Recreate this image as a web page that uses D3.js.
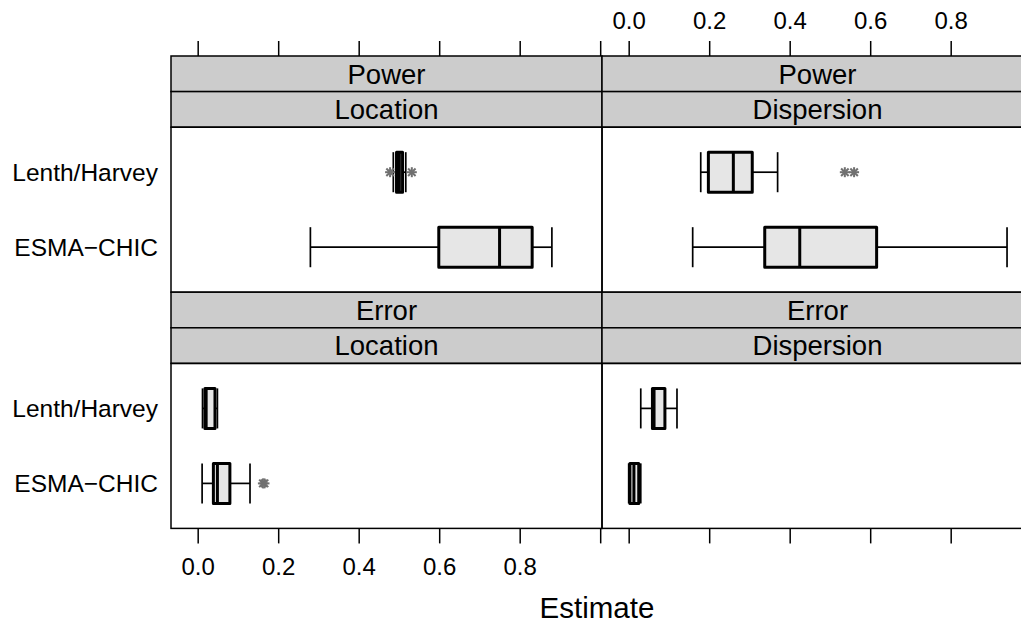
<!DOCTYPE html>
<html>
<head>
<meta charset="utf-8">
<script src="https://cdn.jsdelivr.net/npm/d3@7"></script>
<style>
  body { margin: 0; background: #fff; }
  text { font-family: "Liberation Sans", Arial, sans-serif; }
</style>
</head>
<body>
<div id="chart"></div>
<script>
// levels from bottom to top, like lattice
var methods = ["ESMA\u2212CHIC", "Lenth/Harvey"];
var outcomes = ["Power", "Error"];
var targets = ["Location", "Dispersion"];
var tickValues = [0, 0.2, 0.4, 0.6, 0.8, 1.0];
var tickLabels = ["0.0", "0.2", "0.4", "0.6", "0.8", ""];

// box stats per method: lower whisker, q1, median, q3, upper whisker
var powerLocation = [[0.280, 0.599, 0.750, 0.831, 0.880], [0.486, 0.494, 0.501, 0.509, 0.517]];
var powerDispersion = [[0.159, 0.338, 0.425, 0.616, 0.940], [0.179, 0.198, 0.260, 0.307, 0.370]];
var errorLocation = [[0.011, 0.039, 0.049, 0.080, 0.130], [0.012, 0.018, 0.021, 0.043, 0.049]];
var errorDispersion = [[0.000, 0.003, 0.013, 0.025, 0.030], [0.030, 0.059, 0.063, 0.090, 0.120]];

// outliers per method
var powerLocationOut = [[], [0.478, 0.532]];
var powerDispersionOut = [[], [0.537, 0.560]];
var errorLocationOut = [[0.162, 0.166], []];
var errorDispersionOut = [[], []];

var panels = [
  {row: 0, col: 0, stats: powerLocation, out: powerLocationOut},
  {row: 0, col: 1, stats: powerDispersion, out: powerDispersionOut},
  {row: 1, col: 0, stats: errorLocation, out: errorLocationOut},
  {row: 1, col: 1, stats: errorDispersion, out: errorDispersionOut}
];

var W = 1021, H = 625;
var left = 171, colW = 431, top0 = 56, stripH = 35.6, panelH = 165;
var rowH = 2 * stripH + panelH;

var svg = d3.select("#chart").append("svg")
  .attr("width", W).attr("height", H);

var x = d3.scaleLinear().domain([-0.0663, 1.0045]).range([0, colW]);
var y = d3.scaleLinear().domain([0.4, 2.6]).range([panelH, 0]);
var half = 0.267;

panels.forEach(function (p) {
  var gx = left + p.col * colW;
  var gy = top0 + p.row * rowH;
  var g = svg.append("g").attr("transform", "translate(" + gx + "," + gy + ")");

  // strips
  [outcomes[p.row], targets[p.col]].forEach(function (lab, i) {
    g.append("rect")
      .attr("x", 0).attr("y", i * stripH)
      .attr("width", colW).attr("height", stripH)
      .attr("fill", "#cccccc").attr("stroke", "#000").attr("stroke-width", 1.5);
    g.append("text")
      .attr("x", colW / 2).attr("y", i * stripH + 27.5)
      .attr("text-anchor", "middle")
      .attr("font-size", 27.5)
      .text(lab);
  });

  var pg = g.append("g").attr("transform", "translate(0," + (2 * stripH) + ")");
  pg.append("rect")
    .attr("width", colW).attr("height", panelH)
    .attr("fill", "none").attr("stroke", "#000").attr("stroke-width", 1.5);

  p.stats.forEach(function (s, i) {
    var cy = y(i + 1);
    var y0 = y(i + 1 + half), y1 = y(i + 1 - half);
    var wl = "#000";
    // whiskers
    pg.append("line").attr("x1", x(s[0])).attr("x2", x(s[1])).attr("y1", cy).attr("y2", cy)
      .attr("stroke", wl).attr("stroke-width", 1.7);
    pg.append("line").attr("x1", x(s[3])).attr("x2", x(s[4])).attr("y1", cy).attr("y2", cy)
      .attr("stroke", wl).attr("stroke-width", 1.7);
    [s[0], s[4]].forEach(function (v) {
      pg.append("line").attr("x1", x(v)).attr("x2", x(v)).attr("y1", y0).attr("y2", y1)
        .attr("stroke", wl).attr("stroke-width", 1.7);
    });
    // box
    pg.append("rect")
      .attr("x", x(s[1])).attr("y", y0)
      .attr("width", x(s[3]) - x(s[1])).attr("height", y1 - y0)
      .attr("fill", "#e6e6e6").attr("stroke", "#000").attr("stroke-width", 3)
      .attr("stroke-linejoin", "round");
    pg.append("line").attr("x1", x(s[2])).attr("x2", x(s[2])).attr("y1", y0).attr("y2", y1)
      .attr("stroke", "#000").attr("stroke-width", 3);
    // outliers as pch 8 asterisks
    p.out[i].forEach(function (v) {
      var a = pg.append("g").attr("transform", "translate(" + x(v) + "," + cy + ")")
        .attr("stroke", "#707070").attr("stroke-width", 2);
      var r = 5;
      a.append("line").attr("x1", -r).attr("x2", r).attr("y1", 0).attr("y2", 0);
      a.append("line").attr("x1", 0).attr("x2", 0).attr("y1", -r).attr("y2", r);
      a.append("line").attr("x1", -r * 0.75).attr("x2", r * 0.75).attr("y1", -r * 0.75).attr("y2", r * 0.75);
      a.append("line").attr("x1", -r * 0.75).attr("x2", r * 0.75).attr("y1", r * 0.75).attr("y2", -r * 0.75);
    });
  });

  // y labels on left column
  if (p.col === 0) {
    methods.forEach(function (m, i) {
      svg.append("text")
        .attr("x", left - 13).attr("y", gy + 2 * stripH + y(i + 1) + 9)
        .attr("text-anchor", "end")
        .attr("font-size", 24.5)
        .text(m);
    });
  }

  // top axis on row 0, bottom axis on row 1
  var labelled = (p.row === 0 && p.col === 1) || (p.row === 1 && p.col === 0);
  var fmt = function (d, i) { return labelled ? tickLabels[i] : ""; };
  var ax;
  if (p.row === 0) {
    ax = g.append("g").call(d3.axisTop(x).tickValues(tickValues).tickSize(15).tickPadding(12.5).tickFormat(fmt));
  } else {
    ax = g.append("g").attr("transform", "translate(0," + (2 * stripH + panelH) + ")")
      .call(d3.axisBottom(x).tickValues(tickValues).tickSize(15).tickPadding(14.5).tickFormat(fmt));
  }
  ax.select(".domain").remove();
  ax.selectAll(".tick line").attr("stroke", "#000").attr("stroke-width", 1.5);
  ax.selectAll(".tick text").attr("font-size", 24).attr("fill", "#000")
    .attr("font-family", "Liberation Sans, Arial, sans-serif");
});

svg.append("text")
  .attr("x", left + colW - 5).attr("y", 618)
  .attr("text-anchor", "middle")
  .attr("font-size", 29.5)
  .text("Estimate");
</script>
</body>
</html>
